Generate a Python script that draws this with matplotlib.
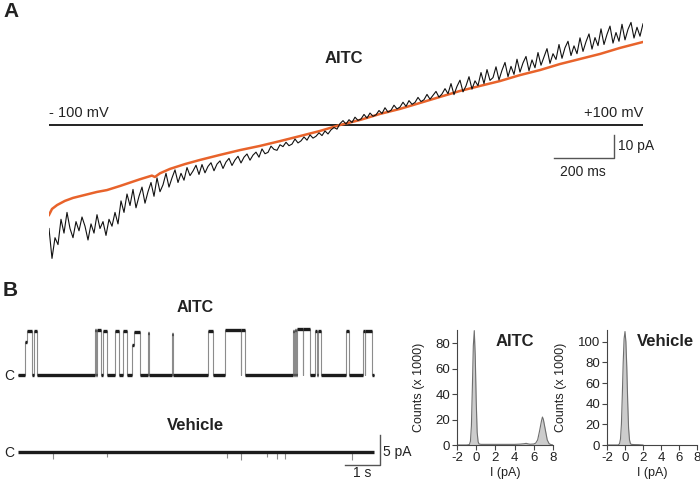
import numpy as np
import matplotlib
matplotlib.use("Agg")
import matplotlib.pyplot as plt

plt.rcParams['font.family'] = ['Liberation Sans', 'DejaVu Sans']
plt.rcParams['axes.unicode_minus'] = False

W, H = 700, 482

# ---------------- Panel A data (time in ms, current in pA) ----------------
ramp_step_ms = 10.0
black_pA = [-45, -58, -49,
            -52, -41, -47, -38, -45, -49, -42, -46, -40, -44, -50, -43, -47, -39, -45, -42,
            -48, -41, -44, -38,
            -43, -33, -38, -30, -35, -28, -36, -31, -27, -34, -29, -25, -31, -23, -29, -26,
            -21, -27, -23, -19.5, -25, -21, -24, -18.5, -22, -20, -17.5, -21.5,
            -17.2, -20.8, -18.0, -16.4, -19.9, -17.0, -15.6, -18.9, -16.1, -14.5, -17.6,
            -15.2, -13.6, -16.5, -14.0, -12.6, -15.3, -13.1, -11.8, -14.0,
            -10.4, -12.5, -11.9, -9.2, -10.6, -11.0, -8.6, -9.4, -7.5, -9.0, -8.3, -6.1,
            -7.8, -6.9, -5.2, -6.6, -4.3, -5.7, -4.9, -3.4, -4.6, -2.6, -3.9, -2.1, -1.1,
            -1.8, 0.6,
            1.9, 0.4, 2.3, 1.1, 3.4, 2.0, 2.6, 4.6, 3.0, 5.2, 3.8, 4.4, 6.3, 5.0, 7.5, 5.6,
            6.4, 8.6, 7.0, 7.8, 9.9, 8.1, 10.6, 9.0, 9.8, 12.0, 10.2, 11.0, 13.3, 11.2,
            12.9, 14.6, 12.1, 13.5, 15.8, 13.6,
            18.0, 13.2, 16.8, 19.5, 14.4, 17.0, 21.0, 15.6, 19.2, 17.1, 22.8, 18.0, 24.1,
            19.4, 20.6, 25.3, 19.6, 23.8, 27.2, 21.0, 25.5, 22.0, 28.6, 23.0, 27.0, 29.8,
            23.6, 28.3, 24.9, 31.5, 26.0, 29.6, 33.2, 26.8, 31.0, 28.5, 35.0, 29.0, 33.6,
            36.4, 30.2, 34.4, 31.0, 37.9, 32.0, 36.2, 39.6, 33.0, 38.0, 34.5, 41.8, 35.0,
            39.4, 43.0, 35.6, 40.2, 36.4, 43.8, 37.0, 41.6, 44.6, 37.8, 42.5, 38.6, 44.0]
black_ms = np.arange(len(black_pA)) * ramp_step_ms

orange_ms = [0, 10, 27, 53, 80, 120, 160, 193, 237, 303, 343, 353, 370, 403, 453, 503,
             570, 637, 703, 770, 837, 903, 970, 1037, 1103, 1170, 1237, 1303, 1370, 1437,
             1503, 1570, 1637, 1703, 1770, 1837, 1903, 1980]
orange_pA = [-39.1, -36.5, -34.8, -33.0, -31.7, -30.4, -29.1, -28.3, -26.5, -23.6, -22.0,
             -22.6, -21.0, -19.1, -17.0, -15.2, -13.0, -10.9, -9.1, -7.0, -4.8, -2.6, 0.0,
             2.2, 4.8, 7.0, 9.6, 12.2, 14.8, 17.0, 19.1, 21.7, 23.9, 26.5, 28.7, 30.9, 33.5,
             36.1]
ramp_end_ms = 1980

# ---------------- Panel B data (time in s, current in pA) ----------------
event_start_s = [0.200, 0.251, 0.457, 2.200, 2.257, 2.440, 2.771, 3.014, 3.243, 3.300,
                 3.720, 4.406, 5.437, 5.914, 6.377, 7.849, 7.903, 7.971, 8.157, 8.486,
                 8.580, 9.363, 9.866, 9.923]
event_end_s = [0.251, 0.409, 0.543, 2.240, 2.360, 2.537, 2.886, 3.114, 3.300, 3.486,
               3.734, 4.417, 5.571, 6.366, 6.486, 7.891, 7.957, 8.143, 8.351, 8.534,
               8.657, 9.457, 9.909, 10.114]
event_level_pA = [5.5, 7.4, 7.3, 7.5, 7.5, 7.3, 7.4, 7.4, 5.0, 7.2, 7.0, 6.8, 7.4, 7.5,
                  7.5, 7.4, 7.5, 7.6, 7.7, 7.3, 7.3, 7.4, 7.4, 7.4]
trace_end_s = 10.171

vehicle_spike_s = [1.0, 2.543, 5.971, 6.371, 7.114, 7.40, 7.629, 9.543]
vehicle_spike_pA = [-1.2, -0.9, -1.0, -1.4, -0.8, -1.1, -1.2, -1.3]

# Histograms (I in pA, counts x 1000)
aitc_I = [-2.0, -1.0, -0.8, -0.7, -0.6, -0.5, -0.4, -0.3, -0.2, -0.1, 0.0, 0.1, 0.2, 0.3,
          0.5, 1.0, 2.0, 3.0, 4.0, 4.6, 5.0, 5.2, 5.4, 5.6, 6.0, 6.2, 6.4, 6.6, 6.8, 6.9,
          7.0, 7.2, 7.4, 7.6, 7.8, 8.0]
aitc_counts = [0, 0, 0.2, 0.5, 3, 15, 45, 78, 90, 70, 35, 10, 2.5, 0.8, 0.5, 0.5, 0.5,
               0.5, 0.5, 0.7, 1.0, 1.3, 0.9, 0.6, 0.8, 1.5, 4, 11, 19, 22, 20, 12, 4, 1,
               0.3, 0]
veh_I = [-2.0, -0.8, -0.7, -0.6, -0.5, -0.4, -0.3, -0.2, -0.1, 0.0, 0.1, 0.2, 0.3, 0.4,
         0.5, 0.6, 0.7, 1.0, 1.5, 2.0]
veh_counts = [0, 0, 0.3, 1.5, 6, 20, 48, 80, 103, 110, 100, 75, 42, 16, 5, 1.5, 0.6,
              0.4, 0.3, 0]

hist_xticks = [-2, 0, 2, 4, 6, 8]
aitc_yticks = [0, 20, 40, 60, 80]
veh_yticks = [0, 20, 40, 60, 80, 100]

# ---------------- Figure ----------------
fig = plt.figure(figsize=(W / 100, H / 100), dpi=100)
TXT = '#222222'


def px_axes(x0, y0, x1, y1):
    return fig.add_axes([x0 / W, 1 - y1 / H, (x1 - x0) / W, (y1 - y0) / H])


def ftext(x, y, s, **kw):
    fig.text(x / W, 1 - y / H, s, color=TXT, **kw)


# Panel A
axA = px_axes(49, 15, 643, 265)
axA.set_xlim(0, ramp_end_ms)
axA.set_ylim((125 - 265) / 2.3, (125 - 15) / 2.3)
axA.axis('off')
axA.plot([0, ramp_end_ms], [0, 0], color='#222222', lw=1.4, solid_capstyle='butt')
axA.plot(orange_ms, orange_pA, color='#e8632b', lw=1.8, zorder=2)
axA.plot(black_ms, black_pA, color='#111111', lw=0.8, zorder=3)
axA.text(0, 3.5, '- 100 mV', fontsize=10.5, ha='left', va='baseline', color=TXT)
axA.text(ramp_end_ms, 3.5, '+100 mV', fontsize=10.5, ha='right', va='baseline', color=TXT)
axA.text(983, 29.1, 'AITC', fontsize=12, fontweight='bold', ha='center', va='center',
         color=TXT)
sbx = 1883
axA.plot([sbx - 200, sbx, sbx], [-14.35, -14.35, -4.35], color='#555555', lw=1,
         clip_on=False)
axA.text(sbx + 12, -9.1, '10 pA', fontsize=10, ha='left', va='center', color=TXT)
axA.text(sbx - 103, -20.6, '200 ms', fontsize=10, ha='center', va='center', color=TXT)

ftext(3, 2, 'A', fontsize=15, fontweight='bold', ha='left', va='top')
ftext(3, 281, 'B', fontsize=15, fontweight='bold', ha='left', va='top')

# Panel B single channel traces
axT = px_axes(18, 315, 375, 390)
axT.set_xlim(0, (375 - 18) / 35)
axT.set_ylim(-(390 - 375) / 6, (375 - 315) / 6)
axT.axis('off')

xs, ys = [0.0], [0.0]
prev_end = None
for s, e, lv in zip(event_start_s, event_end_s, event_level_pA):
    if prev_end is None or s > prev_end + 1e-9:
        if prev_end is not None:
            xs.append(prev_end); ys.append(0.0)
        xs += [s, s]; ys += [0.0, lv]
    else:
        xs.append(s); ys.append(lv)
    xs.append(e); ys.append(lv)
    prev_end = e
xs += [prev_end, trace_end_s]; ys += [0.0, 0.0]
axT.plot(xs, ys, color='#8c8c8c', lw=0.8)
for i in range(len(xs) - 1):
    if ys[i] == ys[i + 1] and xs[i + 1] > xs[i]:
        axT.hlines(ys[i], xs[i], xs[i + 1], color='#1c1c1c', lw=2.4, capstyle='butt')

ftext(195, 307, 'AITC', fontsize=11.5, fontweight='bold', ha='center', va='center')
ftext(14, 376, 'C', fontsize=10, ha='right', va='center')

axV = px_axes(18, 420, 375, 470)
axV.set_xlim(0, (375 - 18) / 35)
axV.set_ylim(-(470 - 452) / 6, (452 - 420) / 6)
axV.axis('off')
axV.vlines(vehicle_spike_s, 0, vehicle_spike_pA, color='#8c8c8c', lw=0.8)
axV.hlines(0, 0, trace_end_s, color='#1c1c1c', lw=2.4)
vx = (380 - 18) / 35
axV.plot([vx - 1, vx, vx], [-13 / 6, -13 / 6, 17 / 6], color='#555555', lw=1,
         clip_on=False)
axV.text(vx + 0.09, 0.0, '5 pA', fontsize=10, ha='left', va='center', color=TXT)
axV.text(vx - 0.5, -3.5, '1 s', fontsize=10, ha='center', va='center', color=TXT)
ftext(195, 425, 'Vehicle', fontsize=12, fontweight='bold', ha='center', va='center')
ftext(14, 453, 'C', fontsize=10, ha='right', va='center')


# Histograms
def hist_axes(x0, x1, I, counts, ytop, yticks, title, title_x, ylab_x):
    ax = px_axes(x0, 330, x1, 445)
    ax.fill_between(I, counts, 0, color='#cccccc', lw=0)
    ax.plot(I, counts, color='#6e6e6e', lw=0.8)
    ax.set_xlim(-2, 8)
    ax.set_ylim(0, ytop)
    ax.set_xticks(hist_xticks)
    ax.set_yticks(yticks)
    for sp in ['top', 'right']:
        ax.spines[sp].set_visible(False)
    for sp in ['left', 'bottom']:
        ax.spines[sp].set_color('#444444')
        ax.spines[sp].set_linewidth(0.8)
    ax.tick_params(direction='out', length=3.5, width=0.8, color='#444444',
                   labelsize=9.5, labelcolor=TXT, pad=1.5)
    ax.set_ylabel('Counts (x 1000)', fontsize=9, color=TXT)
    ax.yaxis.set_label_coords(ylab_x, 0.5)
    ax.set_xlabel('I (pA)', fontsize=9, color=TXT)
    ax.xaxis.set_label_coords(0.5, -0.245)
    ax.xaxis.label.set_va('center')
    ax.text(title_x, 0.9, title, transform=ax.transAxes, fontsize=12, fontweight='bold',
            ha='center', va='center', color=TXT)
    ax.patch.set_visible(False)
    return ax


hist_axes(457, 553, aitc_I, aitc_counts, 90.5, aitc_yticks, 'AITC', 0.6, -0.33)
hist_axes(607, 697, veh_I, veh_counts, 111.5, veh_yticks, 'Vehicle', 0.655, -0.44)

fig.savefig('out.png', dpi=100)
